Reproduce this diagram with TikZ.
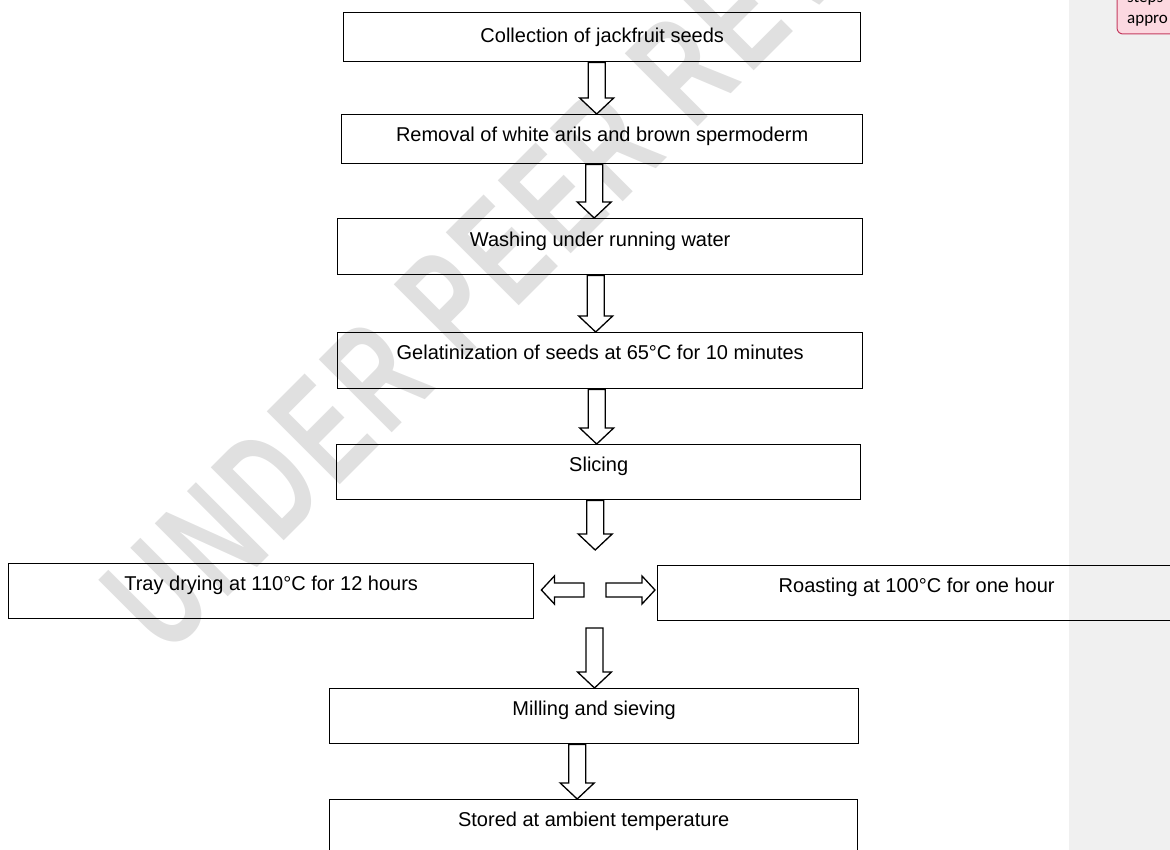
\documentclass[tikz,border=0pt]{standalone}
\usepackage{fontspec}
\setmainfont{Liberation Sans}
\newfontfamily\notefont{Carlito}
\newfontfamily\markfont[FakeStretch=0.66, LetterSpace=5]{Liberation Sans}
\usetikzlibrary{calc}
\tikzset{stepbox/.style = {draw, line width=1.4pt, inner sep=0pt, anchor=north west,
                           text height=27pt, minimum width=#1,
                           font=\fontsize{20}{24}\selectfont},
         blockarrow/.style = {draw, fill=white, line width=1.3pt, line join=miter}}
\definecolor{margingray}{RGB}{240, 240, 240}
\definecolor{markgray}{RGB}{224, 224, 224}
\definecolor{notepink}{RGB}{252, 216, 224}
\definecolor{notered}{RGB}{196, 60, 96}
\newcommand{\downblock}[2]{%
  \draw [blockarrow] let \p1 = #1, \p2 = #2 in
    (\x1 - 8.5pt, \y1) -- (\x1 - 8.5pt, \y2 + 16pt) -- (\x1 - 17pt, \y2 + 16pt)
    -- (\x1, \y2) -- (\x1 + 17pt, \y2 + 16pt) -- (\x1 + 8.5pt, \y2 + 16pt)
    -- (\x1 + 8.5pt, \y1) -- cycle;}
\newcommand{\sideblock}[2]{%
  \draw [blockarrow] let \p1 = #1, \p2 = #2, \n1 = {sign(\x2 - \x1)} in
    (\x1, \y1 + 7pt) -- (\x2 - \n1*13pt, \y1 + 7pt) -- (\x2 - \n1*13pt, \y1 + 14pt)
    -- (\x2, \y1) -- (\x2 - \n1*13pt, \y1 - 14pt) -- (\x2 - \n1*13pt, \y1 - 7pt)
    -- (\x1, \y1 - 7pt) -- cycle;}

\begin{document}
\begin{tikzpicture}[x=1pt, y=-1pt]
      \useasboundingbox (0, 0) rectangle (1170, 850);
      \clip (0, 0) rectangle (1170, 850);
      \fill [margingray] (1069, 0) rectangle (1170, 850);

      \node [rotate=45, anchor=base west, text=markgray,
             font=\markfont\bfseries\fontsize{150}{152}\selectfont] (stamp) at (165, 660) {UNDER PEER REVIEW};

      \node [stepbox=517pt, text height=30pt, text depth=19pt] (collect) at (343, 12) {Collection of jackfruit seeds};
      \node [stepbox=521pt, text depth=22pt] (remove) at (341, 114) {Removal of white arils and brown spermoderm};
      \node [stepbox=525pt, text height=28pt, text depth=28pt] (wash) at (337, 218) {Washing under running water};
      \node [stepbox=525pt, text depth=29pt] (gelat) at (337, 332) {Gelatinization of seeds at 65°C for 10 minutes};
      \node [stepbox=524pt, text depth=28pt] (slice) at (336, 444) {Slicing};
      \node [stepbox=525pt, text depth=28pt] (tray) at (8, 563) {Tray drying at 110°C for 12 hours};
      \node [stepbox=518pt, text depth=28pt] (roast) at (657, 565) {Roasting at 100°C for one hour};
      \node [stepbox=529pt, text depth=28pt] (mill) at (329, 688) {Milling and sieving};
      \node [stepbox=528pt, text depth=70pt] (store) at (329, 799) {Stored at ambient temperature};

      \coordinate (fork) at (594.5, 550);
      \coordinate (forkL) at (584, 590);
      \coordinate (forkR) at (606, 590);
      \coordinate (join) at (594.5, 628);

      \downblock{([xshift=-5.5pt]collect.south)}{(remove.north)}
      \downblock{([xshift=-8pt]remove.south)}{(wash.north)}
      \downblock{([xshift=-4.5pt]wash.south)}{(gelat.north)}
      \downblock{([xshift=-3.5pt]gelat.south)}{(slice.north)}
      \downblock{([xshift=-3.5pt]slice.south)}{(fork)}
      \sideblock{(forkL)}{([xshift=7pt]tray.east)}
      \sideblock{(forkR)}{([xshift=-2pt]roast.west)}
      \downblock{(join)}{(mill.north)}
      \downblock{([xshift=-17pt]mill.south)}{(store.north)}

      \draw [notered, fill=notepink, line width=1pt, rounded corners=6pt] (1117, -20) rectangle (1200, 34);
      \node [anchor=base west, inner sep=0pt, font=\notefont\fontsize{17}{21}\selectfont] (notea) at (1127, 3) {steps};
      \node [anchor=base west, inner sep=0pt, font=\notefont\fontsize{17}{21}\selectfont] (noteb) at (1127, 24) {appro};
\end{tikzpicture}
\end{document}
